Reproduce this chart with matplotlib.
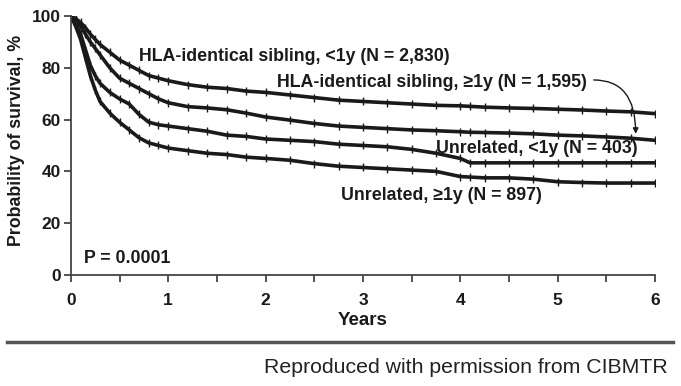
import matplotlib.pyplot as plt
import numpy as np

plt.rcParams['font.family'] = ['Liberation Sans', 'DejaVu Sans']

years = [0, 0.05, 0.1, 0.15, 0.2, 0.25, 0.3, 0.4, 0.5, 0.6, 0.7, 0.8, 0.9, 1.0,
         1.2, 1.4, 1.6, 1.8, 2.0, 2.25, 2.5, 2.75, 3.0, 3.25, 3.5, 3.75, 4.0,
         4.1, 4.25, 4.5, 4.75, 5.0, 5.25, 5.5, 5.75, 6.0]

sib_lt1 = [100, 99, 97.5, 95.5, 93, 91, 89, 86, 83, 81, 79, 77, 76, 75,
           73.5, 72.5, 72, 71, 70.5, 69.5, 68.5, 67.5, 67, 66.5, 66, 65.5, 65.3,
           65.1, 64.8, 64.5, 64.3, 64, 63.7, 63.3, 63, 62.3]
sib_ge1 = [100, 98.5, 96, 93, 90, 87.5, 85, 80, 76, 74, 72, 70, 68, 66.5,
           65, 64.5, 63.8, 62.5, 61, 59.8, 58.5, 57.5, 57, 56.5, 56, 55.7, 55.3,
           55.1, 55, 54.8, 54.5, 54, 53.7, 53.3, 52.8, 52]
unrel_lt1 = [100, 97, 93, 87, 81, 77, 74, 70.5, 68, 66, 62, 59, 58, 57.5,
             56.5, 55.5, 54, 53.5, 52.5, 52, 51.5, 50.5, 50, 49.5, 48.5, 47, 45,
             43.3, 43.3, 43.3, 43.3, 43.3, 43.3, 43.3, 43.3, 43.3]
unrel_ge1 = [100, 96, 91, 84, 77, 71.5, 67, 62.5, 59, 56, 53, 51, 50, 49,
             48, 47, 46.5, 45.5, 45, 44.3, 43, 42, 41.5, 41, 40.5, 40, 38,
             37.8, 37.5, 37.5, 37, 36, 35.7, 35.5, 35.5, 35.5]

ink = '#1a1a1a'

fig = plt.figure(figsize=(6.81, 3.86), dpi=100)
ax = fig.add_axes([0.104, 0.2876, 0.858, 0.671])

for s in [sib_lt1, sib_ge1, unrel_lt1, unrel_ge1]:
    ax.plot(years, s, '-', color=ink, lw=2.6, marker='|', ms=5.5, mew=1.0)

ax.set_xlim(0, 6)
ax.set_ylim(0, 100)
ax.spines['right'].set_color('none')
ax.spines['top'].set_color('none')
ax.spines['left'].set_color('#444444')
ax.spines['bottom'].set_color('#444444')
ax.spines['left'].set_linewidth(1.3)
ax.spines['bottom'].set_linewidth(1.3)
ax.set_xticks(range(0, 7))
ax.set_xticks(np.arange(0.5, 6, 1.0), minor=True)
ax.set_yticks(range(0, 101, 20))
ax.tick_params(axis='both', which='both', direction='out', color='#444444', width=1.3, length=5,
               labelsize=12.5, labelcolor=ink)
ax.tick_params(axis='x', pad=8)
ax.tick_params(axis='y', pad=2)
for lab in ax.get_xticklabels() + ax.get_yticklabels():
    lab.set_fontweight('bold')

ax.set_xlabel('Years', fontsize=13.5, fontweight='bold', color=ink, labelpad=3)
ax.set_ylabel('Probability of survival, %', fontsize=12.8, fontweight='bold', color=ink)
ax.yaxis.set_label_coords(-0.078, 0.52)

tkw = dict(fontsize=12.8, fontweight='bold', color=ink)
ax.text(0.7, 84.5, 'HLA-identical sibling, <1y (N = 2,830)', va='center', **tkw)
ax.text(2.12, 74.5, 'HLA-identical sibling, \u22651y (N = 1,595)', va='center', **tkw)
ax.text(3.75, 49, 'Unrelated, <1y (N = 403)', va='center', **tkw)
ax.text(2.77, 30.5, 'Unrelated, \u22651y (N = 897)', va='center', **tkw)
ax.text(0.135, 6.2, 'P = 0.0001', va='center', **tkw)

ax.annotate('', xy=(5.8, 54.5), xytext=(5.37, 75.3),
            arrowprops=dict(arrowstyle='-|>', color=ink, lw=1.0, mutation_scale=8,
                            shrinkA=0, shrinkB=0,
                            connectionstyle='angle3,angleA=0,angleB=-90'))

fig.add_artist(plt.Line2D([0.01, 0.988], [0.114, 0.114], color='#555555', lw=2.5))
fig.text(0.98, 0.047, 'Reproduced with permission from CIBMTR', ha='right', va='center',
         fontsize=15.3, color='#222222')

plt.savefig('out.png', dpi=100)
